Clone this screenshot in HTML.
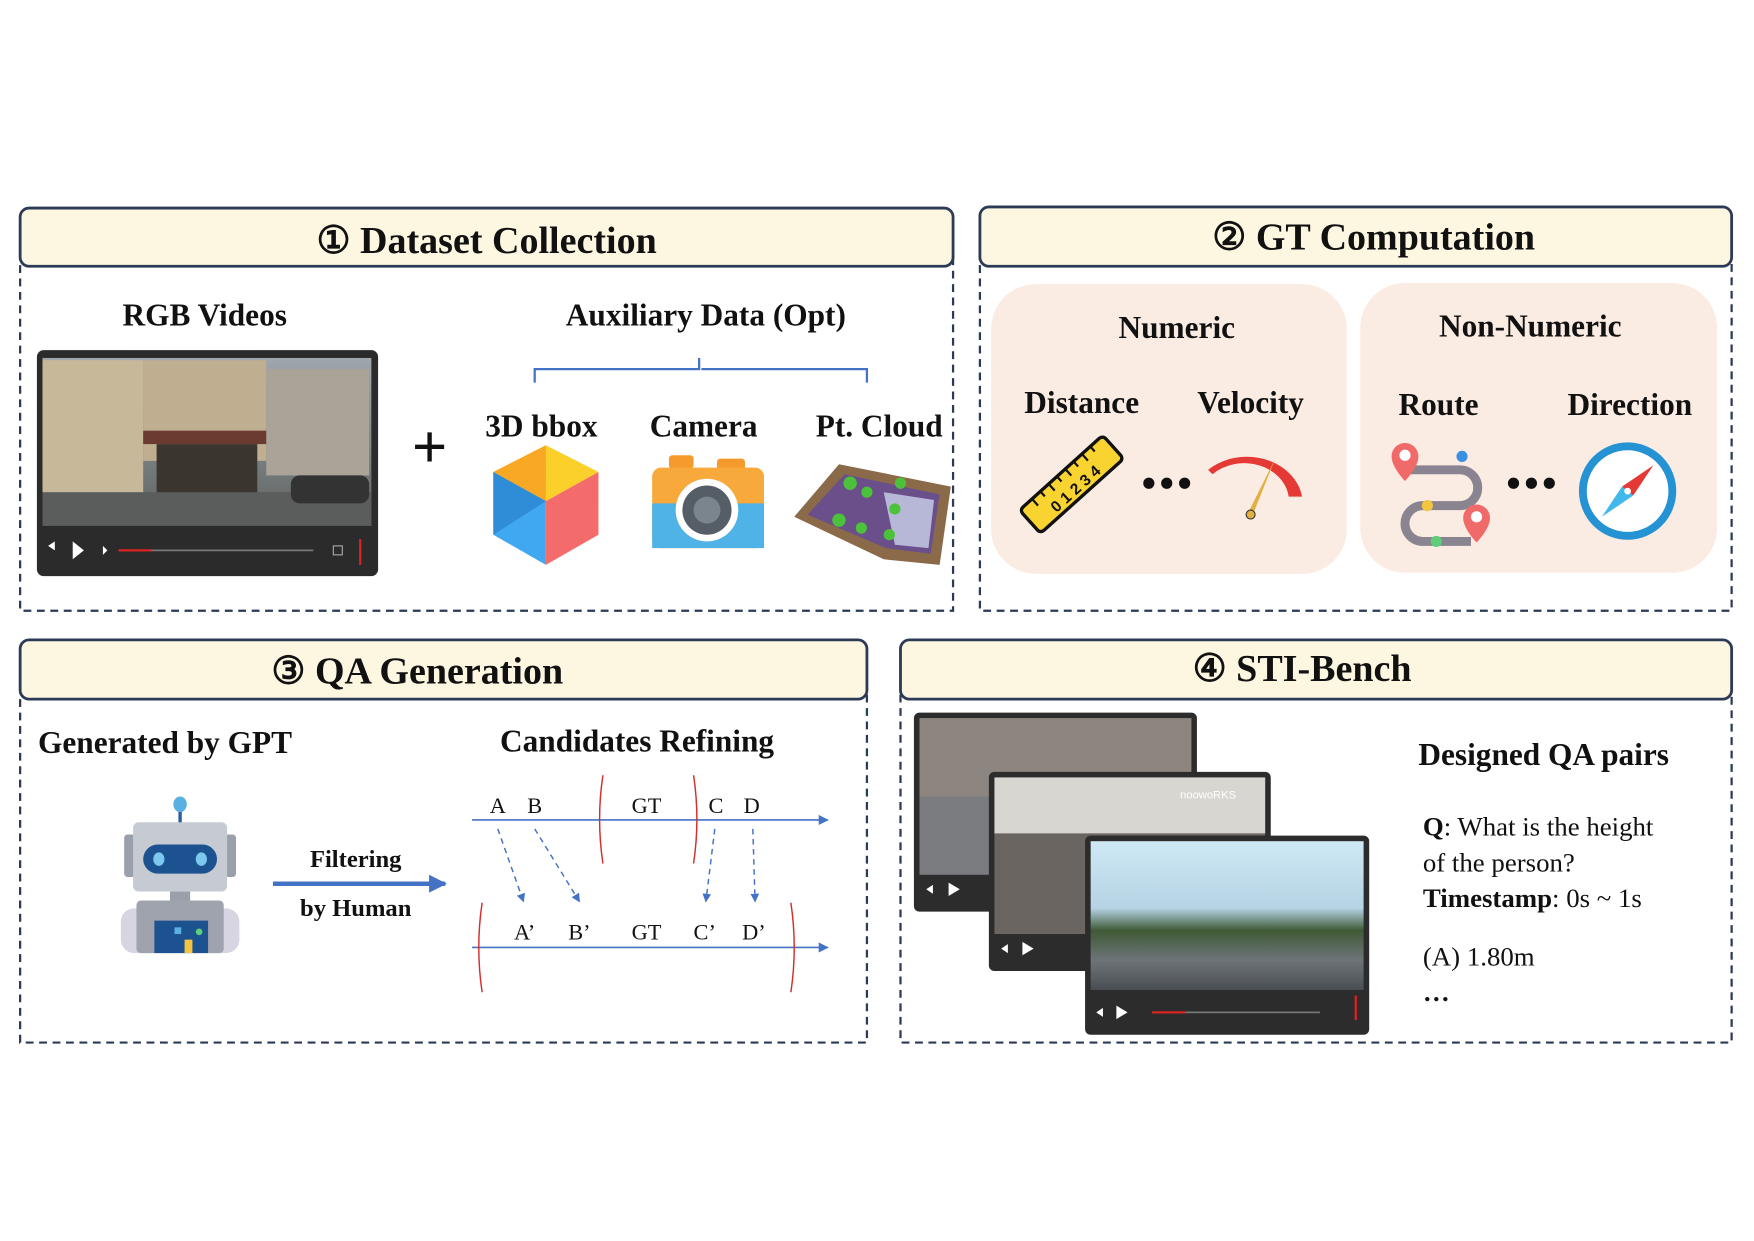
<!DOCTYPE html>
<html><head><meta charset="utf-8"><style>
html,body{margin:0;padding:0;background:#fff;width:1754px;height:1241px;overflow:hidden}
svg{display:block}
text{font-family:"Liberation Serif","DejaVu Serif",serif}
.b{font-weight:bold}
</style></head><body>
<svg width="1754" height="1241" viewBox="0 0 1568 1109.4" preserveAspectRatio="none" xmlns="http://www.w3.org/2000/svg">
<defs>
<marker id="ah" viewBox="0 0 10 10" refX="9" refY="5" markerWidth="6" markerHeight="6" orient="auto"><path d="M0,0 L10,5 L0,10 z" fill="#4472c4"/></marker>
<marker id="ah2" viewBox="0 0 10 10" refX="9" refY="5" markerWidth="4" markerHeight="4" orient="auto"><path d="M0,0 L10,5 L0,10 z" fill="#4472c4"/></marker>
<linearGradient id="sky" x1="0" y1="0" x2="0" y2="1"><stop offset="0" stop-color="#9fa6ae"/><stop offset="1" stop-color="#5e625f"/></linearGradient>
<linearGradient id="sky2" x1="0" y1="0" x2="0" y2="1"><stop offset="0" stop-color="#cfe8f5"/><stop offset="0.45" stop-color="#b5d3e4"/><stop offset="0.6" stop-color="#3f5a36"/><stop offset="0.8" stop-color="#6d7478"/><stop offset="1" stop-color="#4a4e52"/></linearGradient>
</defs>
<rect width="1568" height="1110" fill="#fff"/>

<g fill="none" stroke="#2b3a55" stroke-width="2" stroke-dasharray="7,5">
<rect x="18" y="212" width="834" height="334"/>
<rect x="876" y="212" width="672" height="334"/>
<rect x="18" y="598" width="757" height="334"/>
<rect x="805" y="598" width="743" height="334"/>
</g>
<g fill="#fdf7e1" stroke="#2b3a55" stroke-width="2.5">
<rect x="18" y="186" width="834" height="52" rx="8"/>
<rect x="876" y="185" width="672" height="53" rx="8"/>
<rect x="18" y="572" width="757" height="53" rx="8"/>
<rect x="805" y="572" width="743" height="53" rx="8"/>
</g>
<g font-size="34" text-anchor="middle" fill="#111">
<text x="435" y="226" class="b">① Dataset Collection</text>
<text x="1228" y="223" class="b">② GT Computation</text>
<text x="373" y="611" class="b">③ QA Generation</text>
<text x="1164" y="609" class="b">④ STI-Bench</text>
</g>

<g font-size="28" text-anchor="middle" fill="#111">
<text x="183" y="291" class="b">RGB Videos</text>
<text x="631" y="291" class="b">Auxiliary Data (Opt)</text>
<text x="484" y="390" class="b">3D bbox</text>
<text x="629" y="390" class="b">Camera</text>
<text x="786" y="390" class="b">Pt. Cloud</text>
</g>
<path d="M478,342 V330 H625 V320 M627,330 H775 V342" fill="none" stroke="#4472c4" stroke-width="2"/>
<rect x="33" y="313" width="305" height="202" rx="6" fill="#2b2b2b"/>
<rect x="38" y="320" width="294" height="150" fill="url(#sky)"/>
<rect x="38" y="322" width="90" height="120" fill="#c8b89a"/>
<rect x="128" y="322" width="110" height="90" fill="#bfae90"/>
<rect x="238" y="330" width="92" height="95" fill="#a9a398"/>
<rect x="128" y="385" width="110" height="12" fill="#6b3a30"/>
<rect x="140" y="397" width="90" height="48" fill="#3b3530"/>
<rect x="38" y="440" width="294" height="30" fill="#5a5d5c"/>
<rect x="260" y="425" width="70" height="25" rx="8" fill="#333"/>
<path d="M43,488 l6,-4 v8z M65,484 l10,8 l-10,8z M92,488 l4,4 l-4,4z" fill="#fff"/>
<line x1="106" y1="492" x2="280" y2="492" stroke="#777" stroke-width="1.5"/>
<line x1="106" y1="492" x2="135" y2="492" stroke="#d22" stroke-width="2"/>
<rect x="298" y="488" width="8" height="8" fill="none" stroke="#aaa"/>
<line x1="322" y1="482" x2="322" y2="505" stroke="#d22" stroke-width="2"/>
<text x="384" y="418" font-size="56" text-anchor="middle" fill="#111" class="b">+</text>
<polygon points="488,398 535,422 488,448 441,422" fill="#fcd02b"/>
<polygon points="441,422 488,448 488,505 441,478" fill="#40a8f0"/>
<polygon points="535,422 488,448 488,505 535,478" fill="#f46b6b"/>
<polygon points="441,422 488,398 488,448" fill="#f9a825"/>
<polygon points="441,422 488,448 441,478" fill="#2f8cd6"/>
<rect x="598" y="407" width="22" height="12" rx="3" fill="#f79a2e"/>
<rect x="641" y="410" width="25" height="12" rx="3" fill="#f79a2e"/>
<rect x="583" y="418" width="100" height="72" rx="8" fill="#f7a93b"/>
<rect x="583" y="450" width="100" height="40" fill="#4fb3e8"/>
<circle cx="632" cy="456" r="28" fill="#fff"/>
<circle cx="632" cy="456" r="22" fill="#555e66"/>
<circle cx="632" cy="456" r="12" fill="#7b858e"/>
<polygon points="710,462 750,415 850,435 840,505 790,500" fill="#8b6a4a"/>
<polygon points="722,460 755,424 840,442 832,495 792,490" fill="#6a4f8a"/>
<polygon points="790,440 835,447 830,490 800,487" fill="#b7b7d8"/>
<g fill="#4cc23a"><circle cx="760" cy="432" r="6"/><circle cx="775" cy="440" r="5"/><circle cx="750" cy="465" r="6"/><circle cx="770" cy="472" r="5"/><circle cx="800" cy="455" r="5"/><circle cx="805" cy="432" r="5"/><circle cx="795" cy="478" r="5"/></g>

<rect x="886" y="254" width="318" height="259" rx="40" fill="#fbece3"/>
<rect x="1216" y="253" width="319" height="259" rx="40" fill="#fbece3"/>
<g font-size="28" text-anchor="middle" fill="#111">
<text x="1052" y="302" class="b">Numeric</text>
<text x="1368" y="301" class="b">Non-Numeric</text>
<text x="967" y="369" class="b">Distance</text>
<text x="1118" y="369" class="b">Velocity</text>
<text x="1286" y="371" class="b">Route</text>
<text x="1457" y="371" class="b">Direction</text>
</g>
<g transform="translate(958,433) rotate(-42)">
<rect x="-50" y="-14" width="100" height="28" rx="4" fill="#f9d431" stroke="#111" stroke-width="3"/>
<g stroke="#111" stroke-width="2"><line x1="-35" y1="-14" x2="-35" y2="-6"/><line x1="-25" y1="-14" x2="-25" y2="-8"/><line x1="-15" y1="-14" x2="-15" y2="-6"/><line x1="-5" y1="-14" x2="-5" y2="-8"/><line x1="5" y1="-14" x2="5" y2="-6"/><line x1="15" y1="-14" x2="15" y2="-8"/><line x1="25" y1="-14" x2="25" y2="-6"/><line x1="35" y1="-14" x2="35" y2="-8"/></g>
<text x="0" y="10" font-size="14" text-anchor="middle" fill="#111" class="b" style="font-family:'Liberation Sans',sans-serif">0 1 2 3 4</text>
</g>
<g fill="#111"><circle cx="1027" cy="432" r="5"/><circle cx="1043" cy="432" r="5"/><circle cx="1059" cy="432" r="5"/><circle cx="1353" cy="432" r="5"/><circle cx="1369" cy="432" r="5"/><circle cx="1385" cy="432" r="5"/></g>
<path d="M1080,420 A50,42 0 0 1 1164,444 L1152,444 A40,34 0 0 0 1084,424 Z" fill="#e53935"/>
<polygon points="1140,410 1116,458 1120,460" fill="#e0b040"/>
<circle cx="1118" cy="460" r="4" fill="#e0b040" stroke="#333"/>
<path d="M1258,420 H1305 a16,16 0 0 1 0,32 H1272 a16,16 0 0 0 0,32 H1315" fill="none" stroke="#8a8490" stroke-width="8"/>
<path d="M1256,396 a12,12 0 0 1 12,12 c0,10 -12,22 -12,22 c0,0 -12,-12 -12,-22 a12,12 0 0 1 12,-12z" fill="#f06a6a"/><circle cx="1256" cy="407" r="5" fill="#fff"/>
<path d="M1320,451 a12,12 0 0 1 12,12 c0,10 -12,22 -12,22 c0,0 -12,-12 -12,-22 a12,12 0 0 1 12,-12z" fill="#f06a6a"/><circle cx="1320" cy="462" r="5" fill="#fff"/>
<circle cx="1307" cy="408" r="5" fill="#3a90e0"/><circle cx="1276" cy="452" r="5" fill="#f4c542"/><circle cx="1284" cy="484" r="5" fill="#5ccf78"/>
<circle cx="1455" cy="439" r="40" fill="#fff" stroke="#2592d4" stroke-width="7"/>
<polygon points="1478,416 1460,443 1450,435" fill="#e53935"/>
<polygon points="1432,462 1450,435 1460,443" fill="#40b8ec"/>
<circle cx="1455" cy="439" r="3" fill="#fff"/>

<g font-size="28" fill="#111">
<text x="34" y="673" class="b">Generated by GPT</text>
<text x="447" y="672" class="b">Candidates Refining</text>
</g>
<line x1="161" y1="722" x2="161" y2="736" stroke="#2a5aa0" stroke-width="3"/>
<ellipse cx="161" cy="719" rx="6" ry="7" fill="#5ab0e0"/>
<rect x="111" y="746" width="10" height="38" rx="3" fill="#9aa0ab"/>
<rect x="201" y="746" width="10" height="38" rx="3" fill="#9aa0ab"/>
<rect x="119" y="735" width="84" height="62" rx="5" fill="#c6cad3"/>
<rect x="128" y="755" width="66" height="26" rx="13" fill="#1d5290"/>
<ellipse cx="142" cy="768" rx="5" ry="6" fill="#7cc8ee"/><ellipse cx="180" cy="768" rx="5" ry="6" fill="#7cc8ee"/>
<rect x="152" y="797" width="18" height="8" fill="#9aa0ab"/>
<rect x="108" y="812" width="106" height="40" rx="12" fill="#d7d5e2"/>
<rect x="122" y="805" width="78" height="47" rx="4" fill="#9ea3ad"/>
<rect x="138" y="823" width="48" height="29" fill="#1d5290"/>
<rect x="165" y="840" width="7" height="12" fill="#f4c542"/><circle cx="178" cy="833" r="3" fill="#5ccf78"/><rect x="156" y="829" width="6" height="6" fill="#5ab0e0"/>
<text x="318" y="775" font-size="22" text-anchor="middle" fill="#111" class="b">Filtering</text>
<text x="318" y="819" font-size="22" text-anchor="middle" fill="#111" class="b">by Human</text>
<line x1="244" y1="790" x2="398" y2="790" stroke="#4472c4" stroke-width="4" marker-end="url(#ah2)"/>
<line x1="422" y1="733" x2="740" y2="733" stroke="#4472c4" stroke-width="1.5" marker-end="url(#ah)"/>
<line x1="422" y1="847" x2="740" y2="847" stroke="#4472c4" stroke-width="1.5" marker-end="url(#ah)"/>
<g font-size="20" text-anchor="middle" fill="#111">
<text x="445" y="727">A</text><text x="478" y="727">B</text><text x="578" y="727">GT</text><text x="640" y="727">C</text><text x="672" y="727">D</text>
<text x="469" y="840">A’</text><text x="518" y="840">B’</text><text x="578" y="840">GT</text><text x="630" y="840">C’</text><text x="674" y="840">D’</text>
</g>
<g fill="none" stroke="#d32f2f" stroke-width="1.3">
<path d="M539,693 Q533,732 539,772"/><path d="M620,693 Q626,732 620,772"/>
<path d="M431,807 Q425,847 431,887"/><path d="M707,807 Q713,847 707,887"/>
</g>
<g stroke="#4472c4" stroke-width="1.3" stroke-dasharray="5,4" marker-end="url(#ah)">
<line x1="445" y1="741" x2="468" y2="806"/><line x1="478" y1="741" x2="518" y2="806"/>
<line x1="639" y1="741" x2="631" y2="806"/><line x1="673" y1="741" x2="675" y2="806"/>
</g>

<rect x="817" y="637" width="253" height="178" rx="5" fill="#2c2c2c"/>
<rect x="822" y="642" width="243" height="140" fill="#7a7c80"/>
<rect x="822" y="642" width="243" height="70" fill="#8d8580"/>
<path d="M828,795 l6,-4 v8z M848,789 l10,6 l-10,6z" fill="#fff"/>
<rect x="884" y="690" width="252" height="178" rx="5" fill="#2c2c2c"/>
<rect x="889" y="695" width="242" height="140" fill="#6a6560"/>
<rect x="889" y="695" width="242" height="50" fill="#d8d6d0"/>
<text x="1055" y="714" font-size="10" fill="#fff" style="font-family:'Liberation Sans',sans-serif">noowoRKS</text>
<path d="M895,848 l6,-4 v8z M914,842 l10,6 l-10,6z" fill="#fff"/>
<rect x="970" y="747" width="254" height="178" rx="5" fill="#2c2c2c"/>
<rect x="975" y="752" width="244" height="133" fill="url(#sky2)"/>
<path d="M980,905 l6,-4 v8z M998,899 l10,6 l-10,6z" fill="#fff"/>
<line x1="1030" y1="905" x2="1180" y2="905" stroke="#777" stroke-width="1.5"/>
<line x1="1030" y1="905" x2="1060" y2="905" stroke="#d22" stroke-width="2"/>
<line x1="1212" y1="890" x2="1212" y2="912" stroke="#d22" stroke-width="2"/>
<text x="1268" y="684" font-size="28" fill="#111" class="b">Designed QA pairs</text>
<g font-size="24" fill="#111">
<text x="1272" y="747"><tspan class="b">Q</tspan>: What is the height</text>
<text x="1272" y="779">of the person?</text>
<text x="1272" y="811"><tspan class="b">Timestamp</tspan>: 0s ~ 1s</text>
<text x="1272" y="863">(A) 1.80m</text>
<text x="1272" y="895" class="b">…</text>
</g>
</svg>
</body></html>
